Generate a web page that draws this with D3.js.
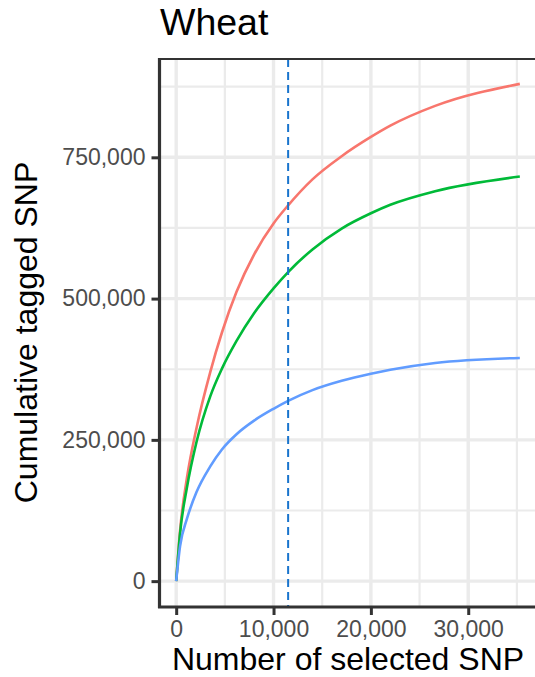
<!DOCTYPE html>
<html>
<head>
<meta charset="utf-8">
<script src="https://cdn.jsdelivr.net/npm/d3@7"></script>
<style>
  html, body { margin: 0; padding: 0; background: #fff; }
  svg { display: block; font-family: "Liberation Sans", Arial, sans-serif; }
</style>
</head>
<body>
<svg id="chart" width="535" height="677"></svg>
<script>
// Number of selected SNP (x) and cumulative tagged SNP for three groups
const selectedSNP = [0, 400, 1100, 2100, 3500, 4700, 6200, 8000, 10000, 11500, 14000, 17000, 20000, 22000, 26600, 35300];
const group1 = [0, 90000, 182000, 272000, 370000, 440000, 512000, 578000, 633000, 665000, 711000, 752000, 786000, 806000, 841000, 880000];
const group2 = [0, 85000, 165000, 247000, 327000, 376000, 425000, 474000, 518000, 547000, 587000, 624000, 651000, 666000, 690000, 716000];
const group3 = [0, 62000, 110000, 158000, 203000, 233000, 260000, 284000, 305000, 319000, 338000, 354500, 367000, 374000, 386000, 395000];
const groupColors = ["#F8766D", "#00BA38", "#619CFF"];
const cutoff = [11500];

const xMajor = [0, 10000, 20000, 30000];
const xMinor = [5000, 15000, 25000, 35000];
const yMajor = [0, 250000, 500000, 750000];
const yMinor = [125000, 375000, 625000, 875000];

const svg = d3.select("#chart");
const panel = { left: 159, right: 537, top: 59, bottom: 606 };

// Data ranges with 5% padding on both sides
const xMax = d3.max(selectedSNP);
const yMax = d3.max([...group1, ...group2, ...group3]);
const x = d3.scaleLinear()
  .domain([-0.05 * xMax, xMax * 1.05])
  .range([panel.left, panel.right]);
const y = d3.scaleLinear()
  .domain([-0.05 * yMax, yMax * 1.05])
  .range([panel.bottom, panel.top]);

const fmt = d3.format(",");

// Title
svg.append("text")
  .attr("x", 160).attr("y", 35)
  .attr("font-size", 37.5).attr("fill", "#000")
  .text("Wheat");

const g = svg.append("g");

// Panel background grid
const grid = g.append("g");
grid.selectAll(".xminor").data(xMinor).join("line")
  .attr("x1", d => x(d)).attr("x2", d => x(d))
  .attr("y1", panel.top).attr("y2", panel.bottom)
  .attr("stroke", "#EBEBEB").attr("stroke-width", 2.2);
grid.selectAll(".yminor").data(yMinor).join("line")
  .attr("y1", d => y(d)).attr("y2", d => y(d))
  .attr("x1", panel.left).attr("x2", panel.right)
  .attr("stroke", "#EBEBEB").attr("stroke-width", 2.2);
grid.selectAll(".xmajor").data(xMajor).join("line")
  .attr("x1", d => x(d)).attr("x2", d => x(d))
  .attr("y1", panel.top).attr("y2", panel.bottom)
  .attr("stroke", "#EBEBEB").attr("stroke-width", 3.4);
grid.selectAll(".ymajor").data(yMajor).join("line")
  .attr("y1", d => y(d)).attr("y2", d => y(d))
  .attr("x1", panel.left).attr("x2", panel.right)
  .attr("stroke", "#EBEBEB").attr("stroke-width", 3.4);

// Curves
const line = d3.line()
  .x((d, i) => x(selectedSNP[i]))
  .y(d => y(d))
  .curve(d3.curveMonotoneX);

g.selectAll(".curve").data([group1, group2, group3]).join("path")
  .attr("d", d => line(d))
  .attr("fill", "none")
  .attr("stroke", (d, i) => groupColors[i])
  .attr("stroke-width", 2.6)
  .attr("stroke-linejoin", "round");

// Vertical dashed cutoff
g.selectAll(".cutoff").data(cutoff).join("line")
  .attr("x1", d => x(d)).attr("x2", d => x(d))
  .attr("y1", panel.top).attr("y2", panel.bottom)
  .attr("stroke", "#1874CD").attr("stroke-width", 2)
  .attr("stroke-dasharray", "8,5");

// Panel border
g.append("line")
  .attr("x1", panel.left).attr("x2", panel.right)
  .attr("y1", panel.top).attr("y2", panel.top)
  .attr("stroke", "#333").attr("stroke-width", 2);

// Axes
const xAxis = d3.axisBottom(x).tickValues(xMajor).tickFormat(fmt).tickSizeInner(8).tickSizeOuter(0).tickPadding(6);
const yAxis = d3.axisLeft(y).tickValues(yMajor).tickFormat(fmt).tickSizeInner(8).tickSizeOuter(0).tickPadding(6);

const gx = svg.append("g").attr("transform", `translate(0,${panel.bottom + 1})`).call(xAxis);
const gy = svg.append("g").attr("transform", `translate(${panel.left + 0.5},0)`).call(yAxis);

[gx, gy].forEach(ax => {
  ax.select(".domain").attr("stroke", "#333").attr("stroke-width", 3.2);
  ax.selectAll(".tick line").attr("stroke", "#333").attr("stroke-width", 3);
  ax.selectAll(".tick text")
    .attr("fill", "#4D4D4D")
    .attr("font-size", 23)
    .attr("font-family", "Liberation Sans, Arial, sans-serif");
});
// axis line spans the full panel
gx.select(".domain").attr("d", `M${panel.left - 1},0H${panel.right}`);
gy.select(".domain").attr("d", `M0,${panel.bottom + 2}V${panel.top - 1}`);

// Axis titles
svg.append("text")
  .attr("x", (panel.left + panel.right) / 2).attr("y", 670)
  .attr("text-anchor", "middle")
  .attr("font-size", 32).attr("fill", "#000")
  .text("Number of selected SNP");

svg.append("text")
  .attr("transform", `translate(37,${(panel.top + panel.bottom) / 2}) rotate(-90)`)
  .attr("text-anchor", "middle")
  .attr("font-size", 32).attr("fill", "#000")
  .text("Cumulative tagged SNP");
</script>
</body>
</html>
